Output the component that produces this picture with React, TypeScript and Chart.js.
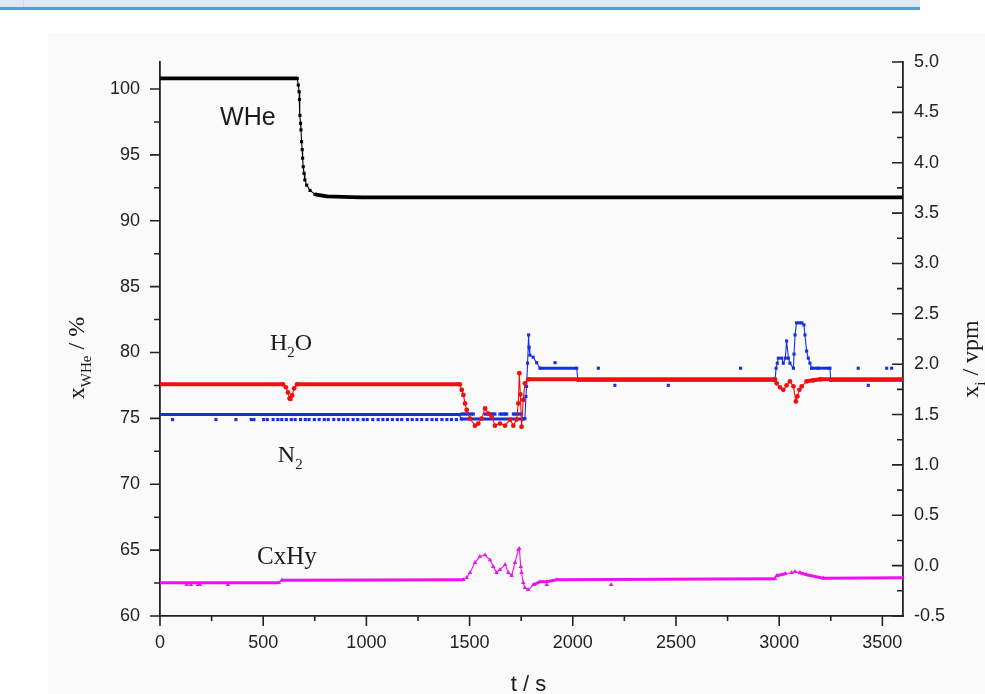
import React, { useEffect, useRef } from "react";
import { Chart, registerables } from "chart.js";
Chart.register(...registerables);

// ---- axes ----
const X_MIN = 0, X_MAX = 3600, X_STEP = 500, X_MINOR = 250;
const YL_MIN = 60, YL_MAX = 102.05, YL_STEP = 5, YL_MINOR = 2.5;
const YR_MIN = -0.5, YR_MAX = 5.0, YR_STEP = 0.5, YR_MINOR = 0.25;
const xTicks = [0, 500, 1000, 1500, 2000, 2500, 3000, 3500];
const yLeftTicks = [60, 65, 70, 75, 80, 85, 90, 95, 100];
const yRightTicks = [-0.5, 0.0, 0.5, 1.0, 1.5, 2.0, 2.5, 3.0, 3.5, 4.0, 4.5, 5.0];

// ---- WHe (left axis, %) ----
const wheT = [0, 665, 670, 674, 676, 678, 681, 683, 686, 689, 691, 694, 698, 702, 711, 727, 751, 808, 969, 3600];
const wheV = [100.8, 100.8, 100.3, 99.8, 99.2, 98.0, 97.4, 96.9, 96.0, 95.4, 94.75, 94.1, 93.6, 93.1, 92.7, 92.3, 92.0, 91.85, 91.78, 91.78];

// ---- H2O (right axis, vpm) ----
const h2oT = [0, 596, 610, 620, 628, 632, 640, 650, 664, 1453, 1462, 1470, 1478, 1486, 1502, 1526, 1542, 1558, 1575, 1591, 1607, 1623, 1647, 1672, 1696, 1712, 1728, 1736, 1741, 1746, 1752, 1760, 1768, 1784, 2980, 2988, 3004, 3020, 3036, 3052, 3069, 3081, 3088, 3098, 3109, 3133, 3165, 3200, 3600];
const h2oV = [1.8, 1.8, 1.77, 1.72, 1.66, 1.655, 1.69, 1.76, 1.8, 1.8, 1.744, 1.695, 1.61, 1.545, 1.46, 1.39, 1.41, 1.46, 1.56, 1.51, 1.48, 1.39, 1.41, 1.39, 1.45, 1.39, 1.45, 1.61, 1.91, 1.7, 1.38, 1.645, 1.81, 1.85, 1.85, 1.81, 1.77, 1.745, 1.79, 1.83, 1.78, 1.63, 1.68, 1.745, 1.78, 1.83, 1.84, 1.85, 1.85];

// ---- N2 (right axis, vpm) ----
const n2T = [0, 1450, 1460, 1760, 1768, 1773, 1776, 1781, 1786, 1788, 1792, 1808, 1825, 1841, 2019, 2025, 2980, 2985, 2991, 2996, 3012, 3020, 3030, 3036, 3045, 3052, 3069, 3072, 3077, 3084, 3098, 3110, 3120, 3125, 3133, 3141, 3149, 3157, 3189, 3246, 3250, 3600];
const n2V = [1.5, 1.5, 1.455, 1.455, 1.46, 1.68, 1.78, 2.01, 2.29, 2.17, 2.09, 2.07, 2.015, 1.96, 1.96, 1.84, 1.84, 1.96, 2.01, 2.06, 2.06, 2.01, 2.06, 2.23, 2.06, 2.01, 1.96, 2.1, 2.29, 2.41, 2.41, 2.41, 2.39, 2.29, 2.13, 2.06, 2.01, 1.96, 1.96, 1.96, 1.84, 1.84];
// isolated N2 readings
const n2DotT = [61, 271, 368, 442, 455, 502, 520, 548, 571, 590, 612, 636, 655, 681, 704, 722, 748, 771, 796, 815, 842, 866, 889, 910, 936, 958, 985, 1004, 1031, 1057, 1080, 1102, 1126, 1150, 1171, 1199, 1222, 1245, 1268, 1293, 1318, 1340, 1366, 1390, 1412, 1436,
  1462, 1470, 1480, 1490, 1500, 1510, 1518, 1575, 1585, 1595, 1605, 1615, 1623, 1647, 1655, 1665, 1673, 1680, 1712, 1720, 1730, 1740, 1752,
  1914, 2124, 2204, 2463, 2813, 3383, 3432, 3521, 3545];
const n2DotV = [1.45, 1.45, 1.45, 1.45, 1.45, 1.45, 1.45, 1.45, 1.45, 1.45, 1.45, 1.45, 1.45, 1.45, 1.45, 1.45, 1.45, 1.45, 1.45, 1.45, 1.45, 1.45, 1.45, 1.45, 1.45, 1.45, 1.45, 1.45, 1.45, 1.45, 1.45, 1.45, 1.45, 1.45, 1.45, 1.45, 1.45, 1.45, 1.45, 1.45, 1.45, 1.45, 1.45, 1.45, 1.45, 1.45,
  1.505, 1.505, 1.505, 1.505, 1.505, 1.505, 1.505, 1.505, 1.505, 1.505, 1.505, 1.505, 1.505, 1.505, 1.505, 1.505, 1.505, 1.505, 1.505, 1.505, 1.505, 1.505, 1.505,
  2.015, 1.96, 1.79, 1.79, 1.96, 1.96, 1.79, 1.96, 1.96];

// ---- CxHy (right axis, vpm) ----
const cT = [0, 575, 590, 1470, 1486, 1502, 1526, 1550, 1575, 1599, 1615, 1631, 1647, 1672, 1688, 1704, 1720, 1736, 1741, 1748, 1752, 1760, 1768, 1784, 1809, 1841, 1874, 1922, 2980, 2988, 3030, 3060, 3077, 3100, 3133, 3214, 3600];
const cV = [-0.17, -0.17, -0.145, -0.14, -0.12, -0.07, 0.03, 0.09, 0.105, 0.056, -0.01, -0.07, -0.04, 0.01, -0.07, -0.1, 0.03, 0.155, 0.17, -0.01, -0.07, -0.17, -0.22, -0.24, -0.19, -0.16, -0.16, -0.14, -0.13, -0.1, -0.08, -0.07, -0.06, -0.07, -0.09, -0.125, -0.12];
const cDotT = [130, 150, 184, 194, 329, 1874, 2186];
const cDotV = [-0.19, -0.19, -0.19, -0.19, -0.19, -0.19, -0.19];

// ---- texts ----
const X_TITLE = "t / s";
const LABEL_WHE = "WHe";
const SANS = '"Liberation Sans", Arial, sans-serif';
const SERIF = '"Liberation Serif", "Times New Roman", serif';

const pts = (t: number[], v: number[]) => t.map((x, i) => ({ x, y: v[i] }));

type Part = { t: string; sub?: boolean };
function drawParts(ctx: CanvasRenderingContext2D, parts: Part[], size: number, family: string, x: number, y: number, center: boolean) {
  const subSize = Math.round(size * 0.62);
  const widths = parts.map((p) => {
    ctx.font = `${p.sub ? subSize : size}px ${family}`;
    return ctx.measureText(p.t).width;
  });
  const total = widths.reduce((a, b) => a + b, 0);
  let cx = center ? x - total / 2 : x;
  parts.forEach((p, i) => {
    ctx.font = `${p.sub ? subSize : size}px ${family}`;
    ctx.fillText(p.t, cx, y + (p.sub ? size * 0.28 : 0));
    cx += widths[i];
  });
}

const thick = (w: number) => (c: any) => (c.p1.parsed.x - c.p0.parsed.x > 30 ? w : 1.1);

const decorPlugin = {
  id: "decor",
  beforeDraw(chart: any) {
    const ctx = chart.ctx as CanvasRenderingContext2D;
    ctx.save();
    ctx.fillStyle = "#ffffff";
    ctx.fillRect(0, 0, chart.width, chart.height);
    ctx.fillStyle = "#fafafa";
    ctx.fillRect(48, 33, chart.width - 48, chart.height - 33);
    ctx.fillStyle = "#dde8f4";
    ctx.fillRect(0, 0, 920, 7);
    ctx.fillStyle = "#cbd9ea";
    ctx.fillRect(23, 0, 1, 7);
    ctx.fillStyle = "#5b9bd5";
    ctx.fillRect(0, 7, 920, 3);
    ctx.restore();
  },
  afterDraw(chart: any) {
    const ctx = chart.ctx as CanvasRenderingContext2D;
    const { left, right, top, bottom } = chart.chartArea;
    const xs = chart.scales.x, yl = chart.scales.y, yr = chart.scales.y2;
    ctx.save();
    ctx.strokeStyle = "#222";
    ctx.lineWidth = 1.6;
    ctx.beginPath();
    for (let v = X_MIN; v <= X_MAX + 1e-6; v += X_MINOR) {
      const p = xs.getPixelForValue(v);
      const major = Math.abs(v / X_STEP - Math.round(v / X_STEP)) < 1e-6;
      ctx.moveTo(p, bottom);
      ctx.lineTo(p, bottom + (major ? 10 : 5));
    }
    for (let v = YL_MIN; v <= YL_MAX + 1e-6; v += YL_MINOR) {
      const p = yl.getPixelForValue(v);
      const major = Math.abs(v / YL_STEP - Math.round(v / YL_STEP)) < 1e-6;
      ctx.moveTo(left, p);
      ctx.lineTo(left - (major ? 10 : 6), p);
    }
    for (let i = 0; YR_MIN + i * YR_MINOR <= YR_MAX + 1e-6; i++) {
      const v = YR_MIN + i * YR_MINOR;
      const p = yr.getPixelForValue(v);
      const major = Math.abs(v / YR_STEP - Math.round(v / YR_STEP)) < 1e-6;
      ctx.moveTo(right, p);
      ctx.lineTo(right - (major ? 11 : 6), p);
    }
    ctx.stroke();

    ctx.fillStyle = "#1a1a1a";
    ctx.textBaseline = "alphabetic";
    ctx.textAlign = "left";
    // x title
    drawParts(ctx, [{ t: X_TITLE }], 22, SANS, (left + right) / 2 - 3, bottom + 75, true);

    // left title
    ctx.save();
    ctx.translate(left - 76, (top + bottom) / 2 + 19);
    ctx.rotate(-Math.PI / 2);
    drawParts(ctx, [{ t: "x" }, { t: "WHe", sub: true }, { t: " / %" }], 24, SERIF, 0, 0, true);
    ctx.restore();

    // right title
    ctx.save();
    ctx.translate(right + 75, (top + bottom) / 2 + 20);
    ctx.rotate(-Math.PI / 2);
    drawParts(ctx, [{ t: "x" }, { t: "i", sub: true }, { t: " / vpm" }], 24, SERIF, 0, 0, true);
    ctx.restore();

    // annotations
    ctx.font = `25px ${SANS}`;
    ctx.fillText(LABEL_WHE, xs.getPixelForValue(291), yl.getPixelForValue(97.24));
    drawParts(ctx, [{ t: "H" }, { t: "2", sub: true }, { t: "O" }], 24, SERIF, xs.getPixelForValue(533), yr.getPixelForValue(2.14), false);
    drawParts(ctx, [{ t: "N" }, { t: "2", sub: true }], 24, SERIF, xs.getPixelForValue(571), yr.getPixelForValue(1.03), false);
    drawParts(ctx, [{ t: "CxHy" }], 25, SERIF, xs.getPixelForValue(470), yr.getPixelForValue(0.016), false);
    ctx.restore();
  },
};

export default function App() {
  const ref = useRef<HTMLCanvasElement>(null);
  useEffect(() => {
    if (!ref.current) return;
    const tickFont = { family: SANS, size: 18 };
    const setTicks = (vals: number[]) => (s: any) => { s.ticks = vals.map((value) => ({ value })); };
    const chart = new Chart(ref.current, {
      type: "line",
      data: {
        datasets: [
          {
            label: "WHe", data: pts(wheT, wheV), yAxisID: "y", borderColor: "#000", backgroundColor: "#000",
            borderWidth: 3.8, pointStyle: "rect", pointRadius: 2.2, pointBorderWidth: 0, segment: { borderWidth: thick(3.8) }, order: 0,
          },
          {
            label: "H2O", data: pts(h2oT, h2oV), yAxisID: "y2", borderColor: "#ee1111", backgroundColor: "#ee1111",
            borderWidth: 4, pointStyle: "circle", pointRadius: 2.4, pointBorderWidth: 0, segment: { borderWidth: thick(4) }, order: 1,
          },
          {
            label: "N2", data: pts(n2T, n2V), yAxisID: "y2", borderColor: "#1530e0", backgroundColor: "#1530e0",
            borderWidth: 3, pointStyle: "rect", pointRadius: 2.2, pointBorderWidth: 0, segment: { borderWidth: thick(3) }, order: 2,
          },
          {
            label: "N2 dots", data: pts(n2DotT, n2DotV), yAxisID: "y2", showLine: false, borderColor: "#1530e0", backgroundColor: "#1530e0",
            pointStyle: "rect", pointRadius: 2.2, pointBorderWidth: 0, order: 3,
          },
          {
            label: "CxHy", data: pts(cT, cV), yAxisID: "y2", borderColor: "#ee10ee", backgroundColor: "#ee10ee",
            borderWidth: 3, pointStyle: "triangle", pointRadius: 2.6, pointBorderWidth: 0, segment: { borderWidth: thick(3) }, order: 4,
          },
          {
            label: "CxHy dots", data: pts(cDotT, cDotV), yAxisID: "y2", showLine: false, borderColor: "#ee10ee", backgroundColor: "#ee10ee",
            pointStyle: "triangle", pointRadius: 2.6, pointBorderWidth: 0, order: 5,
          },
        ],
      },
      options: {
        animation: false,
        responsive: false,
        devicePixelRatio: 1,
        layout: { padding: { top: 62, left: 0, right: 0, bottom: 0 } },
        plugins: { legend: { display: false }, tooltip: { enabled: false } },
        elements: { line: { tension: 0 } },
        scales: {
          x: {
            type: "linear", min: X_MIN, max: X_MAX,
            grid: { display: false, drawTicks: false },
            border: { display: true, color: "#222", width: 1.8 },
            ticks: { autoSkip: false, padding: 16, font: tickFont, color: "#222", maxRotation: 0, callback: (v: any) => String(v) },
            afterBuildTicks: setTicks(xTicks),
            afterFit: (s: any) => { s.height = 78; },
          },
          y: {
            type: "linear", position: "left", min: YL_MIN, max: YL_MAX,
            grid: { display: false, drawTicks: false },
            border: { display: true, color: "#222", width: 1.8 },
            ticks: { autoSkip: false, padding: 20, font: tickFont, color: "#222", callback: (v: any) => String(v) },
            afterBuildTicks: setTicks(yLeftTicks),
            afterFit: (s: any) => { s.width = 160; },
          },
          y2: {
            type: "linear", position: "right", min: YR_MIN, max: YR_MAX,
            grid: { display: false, drawTicks: false },
            border: { display: true, color: "#222", width: 1.8 },
            ticks: { autoSkip: false, padding: 11, font: tickFont, color: "#222", callback: (v: any) => Number(v).toFixed(1) },
            afterBuildTicks: setTicks(yRightTicks),
            afterFit: (s: any) => { s.width = 82; },
          },
        },
      } as any,
      plugins: [decorPlugin],
    });
    return () => chart.destroy();
  }, []);
  return (
    <div style={{ position: "fixed", left: 0, top: 0, width: 985, height: 694, background: "#fff" }}>
      <canvas ref={ref} width={985} height={694} style={{ display: "block" }} />
    </div>
  );
}
